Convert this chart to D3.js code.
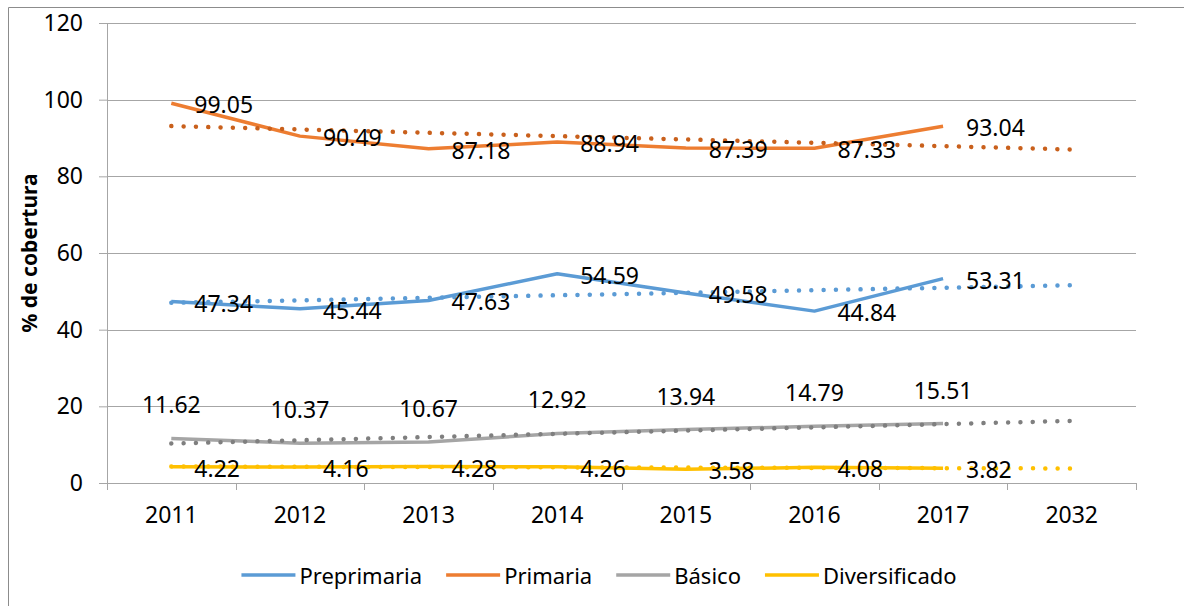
<!DOCTYPE html>
<html>
<head>
<meta charset="utf-8">
<script src="https://cdn.jsdelivr.net/npm/d3@7"></script>
<style>
  body { margin: 0; background: #fff; }
  text { font-family: "Noto Sans", "Open Sans", sans-serif; fill: #000; }
</style>
</head>
<body>
<div id="chart"></div>
<script>
// categories on the x axis (2032 only carries the trendline forecast)
var years = ["2011", "2012", "2013", "2014", "2015", "2016", "2017", "2032"];
var dataYears = ["2011", "2012", "2013", "2014", "2015", "2016", "2017"];

// series values, % de cobertura
var preprimaria = [47.34, 45.44, 47.63, 54.59, 49.58, 44.84, 53.31];
var primaria = [99.05, 90.49, 87.18, 88.94, 87.39, 87.33, 93.04];
var basico = [11.62, 10.37, 10.67, 12.92, 13.94, 14.79, 15.51];
var diversificado = [4.22, 4.16, 4.28, 4.26, 3.58, 4.08, 3.82];

// linear trendlines, value at 2011 and at 2032
var trendYears = ["2011", "2032"];
var preprimariaTrend = [47.0, 51.6];
var primariaTrend = [93.1, 87.0];
var basicoTrend = [10.3, 16.2];
var diversificadoTrend = [4.3, 3.8];

var yTicks = [0, 20, 40, 60, 80, 100, 120];

var series = [
  {name: "Preprimaria", values: preprimaria, trend: preprimariaTrend, color: "#5B9BD5", trendColor: "#5B9BD5", label: "right"},
  {name: "Primaria", values: primaria, trend: primariaTrend, color: "#ED7D31", trendColor: "#C9601C", label: "right"},
  {name: "Básico", values: basico, trend: basicoTrend, color: "#A5A5A5", trendColor: "#7F7F7F", label: "above"},
  {name: "Diversificado", values: diversificado, trend: diversificadoTrend, color: "#FFC000", trendColor: "#FFC000", label: "right"}
];

var W = 1184, H = 606;
var margin = {top: 23, right: 48, bottom: 123, left: 107},
  width = W - margin.left - margin.right,
  height = H - margin.top - margin.bottom;

var svgRoot = d3.select("#chart")
  .append("svg")
    .attr("width", W)
    .attr("height", H);

// chart frame (only the left and top edges are in view)
svgRoot.append("path")
  .attr("d", "M8.5," + H + "V7.5H" + W)
  .attr("fill", "none")
  .attr("stroke", "#8c8c8c")
  .attr("stroke-width", 1);

var svg = svgRoot.append("g")
  .attr("transform", "translate(" + margin.left + "," + margin.top + ")");

var x = d3.scaleBand()
  .domain(years)
  .range([0, width]);
var cx = function(c) { return x(c) + x.bandwidth() / 2; };

var y = d3.scaleLinear()
  .domain([0, 120])
  .range([height, 0]);

// gridlines
svg.append("g")
  .selectAll("line")
  .data(yTicks.filter(function(d) { return d > 0; }))
  .enter()
  .append("line")
    .attr("x1", 0)
    .attr("x2", width)
    .attr("y1", function(d) { return Math.round(y(d)) + 0.5; })
    .attr("y2", function(d) { return Math.round(y(d)) + 0.5; })
    .attr("stroke", "#a6a6a6")
    .attr("stroke-width", 1);

// y axis
var yAxis = svg.append("g")
  .call(d3.axisLeft(y).tickValues(yTicks).tickSize(8).tickPadding(16));
yAxis.select(".domain").attr("stroke", "#a6a6a6");
yAxis.selectAll(".tick line").attr("stroke", "#a6a6a6");
yAxis.selectAll(".tick text")
  .style("font-size", "23px")
  .style("font-family", "'Noto Sans', sans-serif")
  .attr("fill", "#000");

// x axis: labels at band centres, tick marks between categories
var xAxis = svg.append("g")
  .attr("transform", "translate(0," + height + ")")
  .call(d3.axisBottom(x).tickSize(0).tickPadding(24));
xAxis.select(".domain").attr("stroke", "#a6a6a6");
xAxis.selectAll(".tick text")
  .style("font-size", "23px")
  .style("font-family", "'Noto Sans', sans-serif")
  .attr("fill", "#000");
xAxis.selectAll(".edge")
  .data(years.concat(["end"]))
  .enter()
  .append("line")
    .attr("class", "edge")
    .attr("x1", function(d, i) { return Math.round(i < years.length ? x(d) : width) + 0.5; })
    .attr("x2", function(d, i) { return Math.round(i < years.length ? x(d) : width) + 0.5; })
    .attr("y1", 0)
    .attr("y2", 7)
    .attr("stroke", "#a6a6a6");

// y axis title
svg.append("text")
  .attr("transform", "translate(" + (29 - margin.left) + "," + (height / 2) + ") rotate(-90)")
  .attr("text-anchor", "middle")
  .attr("dominant-baseline", "central")
  .style("font-size", "21px")
  .style("font-weight", "bold")
  .text("% de cobertura");

var line = d3.line()
  .x(function(d) { return cx(d.year); })
  .y(function(d) { return y(d.value); });

var pts = function(yrs, vals) {
  return vals.map(function(v, i) { return {year: yrs[i], value: v}; });
};

// series lines
svg.append("g")
  .selectAll("path")
  .data(series)
  .enter()
  .append("path")
    .attr("d", function(s) { return line(pts(dataYears, s.values)); })
    .attr("fill", "none")
    .attr("stroke", function(s) { return s.color; })
    .attr("stroke-width", 3.5)
    .attr("stroke-linejoin", "round");

// dotted trendlines
svg.append("g")
  .selectAll("path")
  .data(series)
  .enter()
  .append("path")
    .attr("d", function(s) { return line(pts(trendYears, s.trend)); })
    .attr("fill", "none")
    .attr("stroke", function(s) { return s.trendColor; })
    .attr("stroke-width", 4.5)
    .attr("stroke-linecap", "round")
    .attr("stroke-dasharray", "0.01 12.3");

// data labels
series.forEach(function(s) {
  svg.append("g")
    .selectAll("text")
    .data(pts(dataYears, s.values))
    .enter()
    .append("text")
      .attr("x", function(d) { return s.label === "above" ? cx(d.year) : cx(d.year) + 23; })
      .attr("y", function(d) { return s.label === "above" ? y(d.value) - 34 : y(d.value) + 1; })
      .attr("text-anchor", s.label === "above" ? "middle" : "start")
      .attr("dominant-baseline", "central")
      .style("font-size", "23px")
      .text(function(d) { return d.value.toFixed(2); });
});

// legend
var legend = svgRoot.append("g");
var items = legend.selectAll("g")
  .data(series)
  .enter()
  .append("g");
items.append("line")
  .attr("x1", 0)
  .attr("x2", 54)
  .attr("stroke", function(s) { return s.color; })
  .attr("stroke-width", 3.5);
items.append("text")
  .attr("x", 58)
  .attr("dominant-baseline", "central")
  .style("font-size", "22px")
  .text(function(s) { return s.name; });

var pos = 0, gap = 24;
items.each(function() {
  var w = this.getBBox().width;
  d3.select(this).attr("transform", "translate(" + pos + ",0)");
  pos += w + gap;
});
var legendW = pos - gap;
legend.attr("transform", "translate(" + (599 - legendW / 2) + ",575)");
</script>
</body>
</html>
